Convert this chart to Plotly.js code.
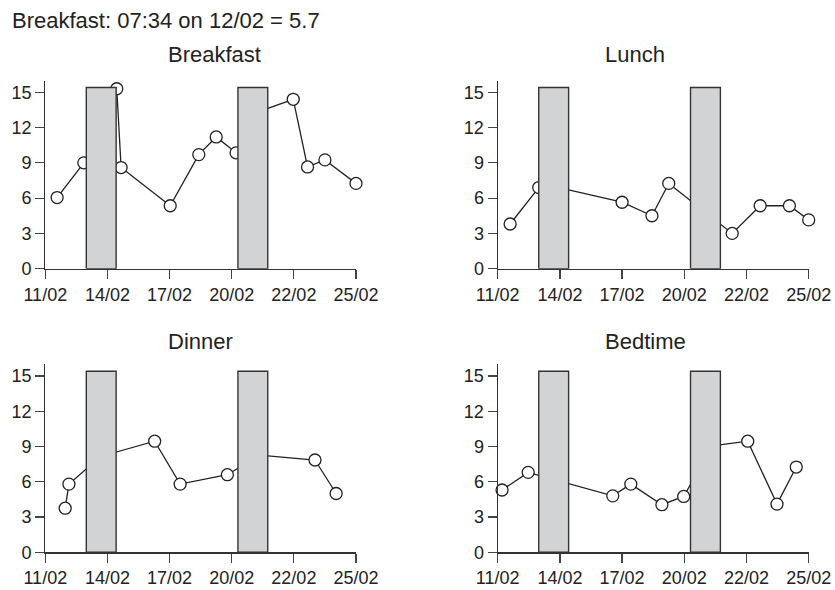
<!DOCTYPE html>
<html>
<head>
<meta charset="utf-8">
<script src="https://cdn.plot.ly/plotly-3.0.1.min.js"></script>
<style>
html,body{margin:0;padding:0;background:#fff;}
#chart{width:835px;height:590px;}
</style>
</head>
<body>
<div id="chart"></div>
<script>
// Tick labels on the (evenly spaced) x axis
const tickPos = [0, 1, 2, 3, 4, 5];
const tickLabels = ['11/02', '14/02', '17/02', '20/02', '22/02', '25/02'];
const yTicks = [0, 3, 6, 9, 12, 15];

// Panel names
const panels = ['Breakfast', 'Lunch', 'Dinner', 'Bedtime'];

// Readings (x in tick units along the axis)
const breakfastX = [0.19, 0.62, 1.15, 1.22, 2.01, 2.47, 2.75, 3.07, 3.35, 3.99, 4.22, 4.50, 5.00];
const breakfastY = [6.05, 9.0, 15.3, 8.6, 5.35, 9.7, 11.2, 9.85, 13.2, 14.4, 8.65, 9.25, 7.25];

const lunchX = [0.20, 0.66, 0.93, 2.00, 2.48, 2.75, 3.77, 4.22, 4.69, 5.00];
const lunchY = [3.8, 6.9, 6.95, 5.65, 4.5, 7.25, 3.0, 5.35, 5.35, 4.15];

const dinnerX = [0.32, 0.38, 0.89, 1.76, 2.17, 2.93, 3.45, 4.34, 4.68];
const dinnerY = [3.75, 5.8, 8.15, 9.45, 5.8, 6.6, 8.27, 7.85, 5.0];

const bedtimeX = [0.07, 0.49, 1.85, 2.14, 2.64, 2.99, 3.45, 4.02, 4.49, 4.80];
const bedtimeY = [5.3, 6.8, 4.8, 5.8, 4.05, 4.75, 9.05, 9.45, 4.1, 7.25];

// Shaded periods
const shadeStart = [0.66, 3.10];
const shadeEnd = [1.14, 3.58];
const shadeTop = 15.4;

const headerText = 'Breakfast: 07:34 on 12/02 = 5.7';

const seriesX = [breakfastX, lunchX, dinnerX, bedtimeX];
const seriesY = [breakfastY, lunchY, dinnerY, bedtimeY];

const W = 835, H = 590;
const FONT = '"Liberation Sans", Arial, Helvetica, sans-serif';
const INK = '#222222';

// Pixel geometry of the four plot areas
const colPx = [[45.3, 356.0], [497.7, 808.7]];
const rowPx = [[268.7, 80.5], [552.3, 364.2]]; // [y of 0, y of 16]
const titleLeftPx = [165.7, 603.3];
const titleMidPx = [55, 341];

const traces = [];
const layout = {
  width: W, height: H,
  margin: {l: 0, r: 0, t: 0, b: 0},
  paper_bgcolor: '#ffffff', plot_bgcolor: '#ffffff',
  showlegend: false, hovermode: false,
  font: {family: FONT, color: INK, size: 18},
  annotations: [],
};

panels.forEach((name, i) => {
  const col = i % 2, row = Math.floor(i / 2);
  const sfx = i === 0 ? '' : String(i + 1);
  const xa = 'x' + sfx, ya = 'y' + sfx;

  traces.push({
    type: 'scatter', mode: 'lines+markers',
    x: seriesX[i], y: seriesY[i], xaxis: xa, yaxis: ya,
    cliponaxis: false,
    line: {color: INK, width: 1.3},
    marker: {symbol: 'circle', size: 12, color: '#ffffff', line: {color: INK, width: 1.3}},
  });

  shadeStart.forEach((s, k) => {
    const e = shadeEnd[k];
    traces.push({
      type: 'scatter', mode: 'lines',
      x: [s, s, e, e, s], y: [0, shadeTop, shadeTop, 0, 0],
      xaxis: xa, yaxis: ya,
      fill: 'toself', fillcolor: '#d2d3d5',
      line: {color: '#333333', width: 1.4},
    });
  });

  layout['xaxis' + sfx] = {
    domain: [colPx[col][0] / W, colPx[col][1] / W],
    anchor: ya, range: [0, 5],
    showgrid: false, zeroline: false,
    showline: true, linecolor: '#333333', linewidth: 1.2,
    ticks: 'outside', ticklen: 9, tickwidth: 1.2, tickcolor: '#444444',
    tickmode: 'array', tickvals: tickPos, ticktext: tickLabels,
    tickfont: {family: FONT, size: 18, color: INK},
    fixedrange: true,
  };
  layout['yaxis' + sfx] = {
    domain: [1 - rowPx[row][0] / H, 1 - rowPx[row][1] / H],
    anchor: xa, range: [0, 16],
    showgrid: false, zeroline: false,
    showline: true, linecolor: '#333333', linewidth: 1.2,
    ticks: 'outside', ticklen: 9, tickwidth: 1.2, tickcolor: '#444444',
    tickmode: 'array', tickvals: yTicks,
    tickfont: {family: FONT, size: 18, color: INK},
    fixedrange: true,
  };

  layout.annotations.push({
    xref: 'paper', yref: 'paper',
    x: titleLeftPx[col] / W, y: 1 - titleMidPx[row] / H,
    xanchor: 'left', yanchor: 'middle',
    text: name, showarrow: false,
    font: {family: FONT, size: 22, color: INK},
  });
});

layout.annotations.push({
  xref: 'paper', yref: 'paper',
  x: 10 / W, y: 1 - 21 / H,
  xanchor: 'left', yanchor: 'middle',
  text: headerText, showarrow: false,
  font: {family: FONT, size: 22, color: INK},
});

Plotly.newPlot('chart', traces, layout, {displayModeBar: false, staticPlot: true});
</script>
</body>
</html>
